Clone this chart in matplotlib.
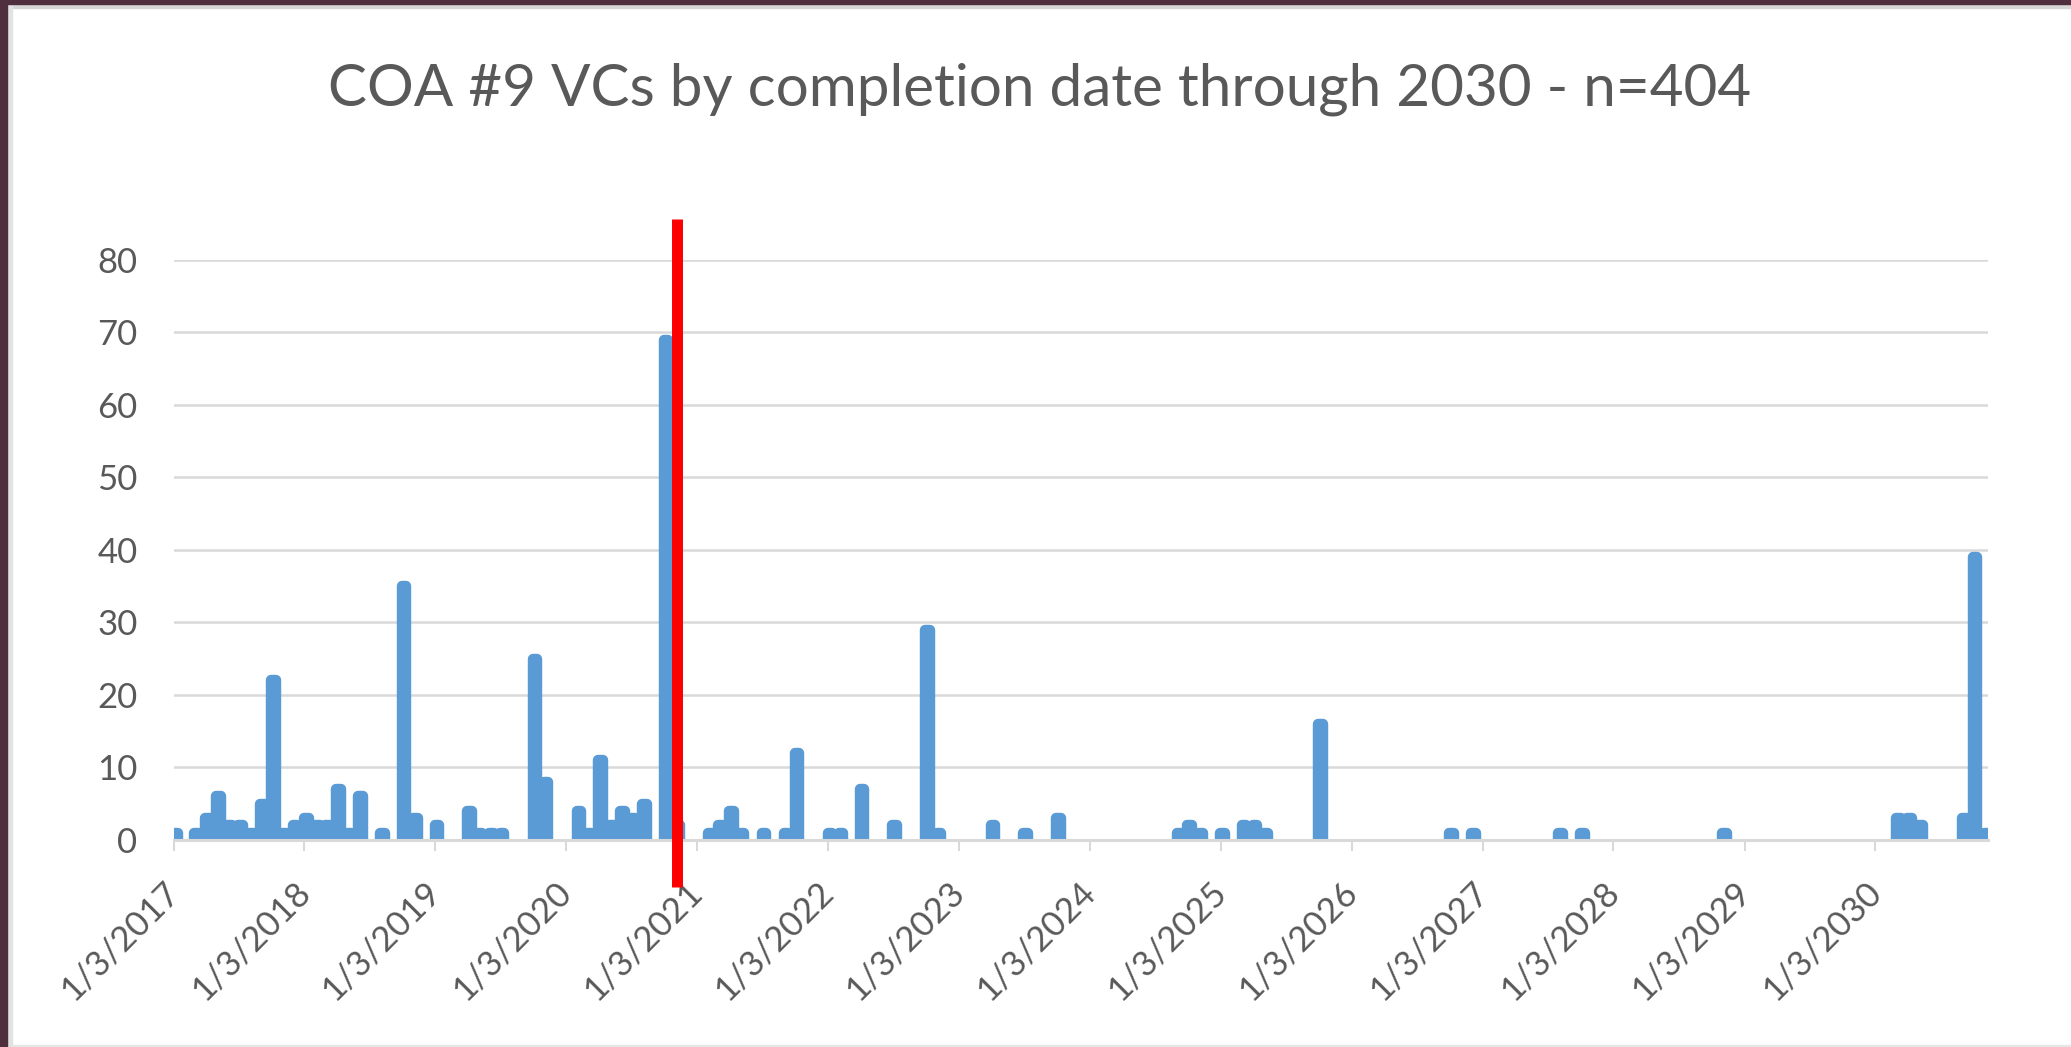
import matplotlib.pyplot as plt
import numpy as np
import pandas as pd
from matplotlib.patches import Rectangle

plt.rcParams['font.family'] = ['Lato', 'DejaVu Sans']

# data: VCs completed per month
months = ["2017-01", "2017-03", "2017-04", "2017-05", "2017-06", "2017-07", "2017-08", "2017-09", "2017-10", "2017-11", "2017-12",
          "2018-01", "2018-02", "2018-03", "2018-04", "2018-05", "2018-06", "2018-08", "2018-10", "2018-11",
          "2019-01", "2019-04", "2019-05", "2019-06", "2019-07", "2019-10", "2019-11",
          "2020-02", "2020-03", "2020-04", "2020-05", "2020-06", "2020-07", "2020-08", "2020-10", "2020-11",
          "2021-02", "2021-03", "2021-04", "2021-05", "2021-07", "2021-09", "2021-10",
          "2022-01", "2022-02", "2022-04", "2022-07", "2022-10", "2022-11",
          "2023-04", "2023-07", "2023-10",
          "2024-09", "2024-10", "2024-11",
          "2025-01", "2025-03", "2025-04", "2025-05", "2025-10",
          "2026-10", "2026-12",
          "2027-08", "2027-10",
          "2028-11",
          "2030-03", "2030-04", "2030-05", "2030-09", "2030-10", "2030-11"]
counts = [1, 1, 3, 6, 2, 2, 1, 5, 22, 1, 2,
          3, 2, 2, 7, 1, 6, 1, 35, 3,
          2, 4, 1, 1, 1, 25, 8,
          4, 1, 11, 2, 4, 3, 5, 69, 2,
          1, 2, 4, 1, 1, 1, 12,
          1, 1, 7, 2, 29, 1,
          2, 1, 3,
          1, 2, 1,
          1, 2, 2, 1, 16,
          1, 1,
          1, 1,
          1,
          3, 3, 2, 3, 39, 1]
tick_years = list(range(2017, 2031))
tick_labels = ["1/3/%d" % y for y in tick_years]
title = "COA #9 VCs by completion date through 2030 - n=404"
marker_date = "2020-11-08"   # red "today" line

blue = "#5B9BD5"
grid_c = "#D9D9D9"
text_c = "#595959"

W, H = 2071, 1047
fig = plt.figure(figsize=(W / 100, H / 100), dpi=100)
fig.patch.set_facecolor("white")

# frame of the screenshot
fig.patches.append(Rectangle((0, 1 - 8 / H), 1, 8 / H, transform=fig.transFigure, color="#D6D6D6", zorder=0))
fig.patches.append(Rectangle((0, 1 - 4 / H), 1, 4 / H, transform=fig.transFigure, color="#4F2F3D", zorder=1))
fig.patches.append(Rectangle((0, 0), 12 / W, 1, transform=fig.transFigure, color="#E2E2E2", zorder=0))
fig.patches.append(Rectangle((0, 0), 7 / W, 1, transform=fig.transFigure, color="#4F2F3D", zorder=1))
fig.patches.append(Rectangle((12 / W, 0), 1, 2 / H, transform=fig.transFigure, color="#E6E6E6", zorder=0))

ax = fig.add_axes([173.6 / W, (H - 840) / H, 1814.4 / W, 580.2 / H])

# thick round-joined outline gives the rounded bar tops
x = pd.to_datetime(months) + pd.Timedelta(days=7)
bars = ax.bar(x, counts, width=13, color=blue, edgecolor=blue, linewidth=7.5, zorder=2)
for b in bars:
    b.set_joinstyle("round")

ax.set_ylim(0, 80)
ax.set_xlim(pd.Timestamp("2017-01-03"), pd.Timestamp("2030-11-13"))
ax.set_yticks(np.arange(0, 81, 10))
ax.yaxis.grid(True, color=grid_c, linewidth=1.8, zorder=0)
ax.set_axisbelow(True)

ticks = pd.to_datetime(["%d-01-03" % y for y in tick_years])
ax.set_xticks(ticks)
ax.set_xticklabels(tick_labels)

for s in ["top", "left", "right"]:
    ax.spines[s].set_visible(False)
ax.spines["bottom"].set_color(grid_c)
ax.spines["bottom"].set_linewidth(2.2)
ax.spines["bottom"].set_zorder(3)

ax.tick_params(axis="y", length=0, pad=26, labelsize=25, labelcolor=text_c)
ax.tick_params(axis="x", length=8, width=1.5, color=grid_c, pad=26, labelsize=25, labelcolor=text_c)
plt.setp(ax.get_xticklabels(), rotation=45, ha="right", va="center", rotation_mode="anchor")

ax.axvline(pd.Timestamp(marker_date), ymin=-0.081, ymax=1.07, color="#FF0000", linewidth=7.9,
           solid_capstyle="butt", clip_on=False, zorder=5)

fig.text(0.502, 1 - 105.7 / H, title, ha="center", va="baseline", fontsize=42, color=text_c)

fig.savefig("out.png", dpi=100)
